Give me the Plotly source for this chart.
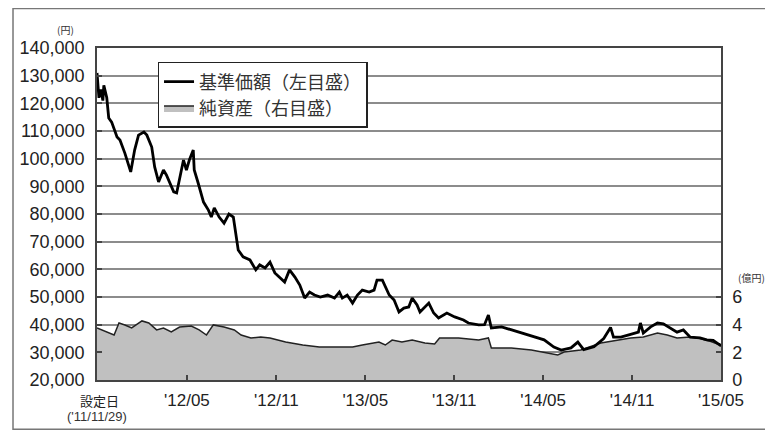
import plotly.graph_objects as go

# 基準価額 (円)
nav_dates = [
    "2011-11-29", "2011-12-03", "2011-12-07", "2011-12-11", "2011-12-13", "2011-12-19",
    "2011-12-23", "2011-12-29", "2012-01-09", "2012-01-15", "2012-01-25", "2012-02-06",
    "2012-02-14", "2012-02-22", "2012-03-04", "2012-03-10", "2012-03-20", "2012-03-26",
    "2012-04-03", "2012-04-13", "2012-04-19", "2012-04-25", "2012-05-04", "2012-05-10",
    "2012-05-16", "2012-05-24", "2012-05-30", "2012-06-05", "2012-06-13", "2012-06-15",
    "2012-06-23", "2012-07-04", "2012-07-14", "2012-07-20", "2012-07-26", "2012-08-05",
    "2012-08-15", "2012-08-25", "2012-09-03", "2012-09-13", "2012-09-23", "2012-10-07",
    "2012-10-19", "2012-10-27", "2012-11-07", "2012-11-17", "2012-11-27", "2012-12-07",
    "2012-12-17", "2012-12-27", "2013-01-07", "2013-01-17", "2013-01-27", "2013-02-06",
    "2013-02-16", "2013-02-28", "2013-03-15", "2013-03-29", "2013-04-08", "2013-04-14",
    "2013-04-24", "2013-05-05", "2013-05-15", "2013-05-25", "2013-06-08", "2013-06-18",
    "2013-06-24", "2013-07-05", "2013-07-11", "2013-07-19", "2013-07-29", "2013-08-08",
    "2013-08-18", "2013-08-28", "2013-09-04", "2013-09-14", "2013-09-20", "2013-10-08",
    "2013-10-18", "2013-10-28", "2013-11-14", "2013-11-30", "2013-12-18", "2013-12-28",
    "2014-01-18", "2014-01-30", "2014-02-07", "2014-02-13", "2014-03-06", "2014-03-26",
    "2014-04-15", "2014-05-12", "2014-06-01", "2014-06-21", "2014-07-06", "2014-07-26",
    "2014-08-09", "2014-08-21", "2014-09-11", "2014-10-01", "2014-10-15", "2014-10-21",
    "2014-11-05", "2014-11-25", "2014-12-11", "2014-12-15", "2014-12-21", "2015-01-05",
    "2015-01-19", "2015-01-31", "2015-02-14", "2015-02-28", "2015-03-13", "2015-03-27",
    "2015-04-16", "2015-04-30", "2015-05-13", "2015-05-27", "2015-05-29",
]
nav_values = [
    131000, 122000, 125000, 121000, 126500, 122000,
    114700, 113200, 107800, 106700, 102000, 95200,
    103100, 108500, 109600, 108500, 104200, 97000,
    91600, 95900, 94100, 91600, 88000, 87600,
    92300, 99500, 95900, 99500, 103100, 95900,
    91200, 84300, 81400, 78900, 82200, 78900,
    76700, 80000, 78900, 67000, 64500, 63400,
    59800, 61600, 60500, 62600, 58700, 56900,
    55400, 59800, 57200, 54300, 49600, 51800,
    50700, 50000, 50700, 49600, 51800, 49600,
    50700, 47800, 50700, 52500, 51800, 52500,
    56100, 56100, 53600, 50700, 48900, 44600,
    46000, 46400, 49600, 47100, 44600, 47800,
    44200, 42400, 44200, 42800, 41700, 40600,
    39900, 40000, 43500, 38800, 39200, 38100,
    37000, 35500, 34500, 31900, 30800, 31600,
    33700, 31000, 32000, 35000, 39000, 35500,
    35500, 36500, 37300, 40600, 37000, 39200,
    40600, 40300, 38800, 37300, 38100, 35500,
    35200, 34500, 34300, 32600, 33000,
]

# 純資産 (億円)
na_dates = [
    "2011-11-29", "2011-12-19", "2012-01-03", "2012-01-13", "2012-01-25", "2012-02-08",
    "2012-02-29", "2012-03-14", "2012-03-30", "2012-04-13", "2012-04-29", "2012-05-16",
    "2012-06-09", "2012-06-25", "2012-07-10", "2012-07-24", "2012-08-15", "2012-09-05",
    "2012-09-19", "2012-10-09", "2012-10-29", "2012-11-17", "2012-12-19", "2013-01-23",
    "2013-02-26", "2013-03-31", "2013-05-05", "2013-05-25", "2013-06-28", "2013-07-11",
    "2013-07-25", "2013-08-14", "2013-09-04", "2013-09-30", "2013-10-20", "2013-10-30",
    "2013-12-08", "2014-01-18", "2014-02-07", "2014-02-13", "2014-03-26", "2014-05-06",
    "2014-05-26", "2014-06-29", "2014-07-12", "2014-08-15", "2014-09-25", "2014-10-29",
    "2014-11-25", "2014-12-21", "2015-01-19", "2015-02-08", "2015-02-28", "2015-03-27",
    "2015-04-16", "2015-05-07", "2015-05-27", "2015-05-29",
]
na_values = [
    3.76, 3.47, 3.25, 4.12, 3.98, 3.76,
    4.27, 4.12, 3.62, 3.76, 3.47, 3.83,
    3.90, 3.62, 3.25, 3.98, 3.83, 3.62,
    3.25, 3.04, 3.11, 3.04, 2.75, 2.53,
    2.39, 2.39, 2.39, 2.53, 2.75, 2.53,
    2.89, 2.75, 2.89, 2.67, 2.60, 3.04,
    3.04, 2.89, 3.04, 2.31, 2.31, 2.17,
    2.02, 1.81, 2.02, 2.17, 2.67, 2.89,
    3.04, 3.11, 3.40, 3.25, 3.04, 3.10,
    3.00, 2.80, 2.53, 2.50,
]

tick_dates = ["2011-11-29", "2012-05-31", "2012-11-30", "2013-05-31",
              "2013-11-29", "2014-05-30", "2014-11-28", "2015-05-29"]
tick_labels = ["", "'12/05", "'12/11", "'13/05", "'13/11", "'14/05", "'14/11", "'15/05"]
start_title = "設定日"
start_label = "('11/11/29)"
left_ticks = [20000, 30000, 40000, 50000, 60000, 70000, 80000,
              90000, 100000, 110000, 120000, 130000, 140000]
right_ticks = [0, 2, 4, 6]

FONT = "Liberation Sans, Arial, Noto Sans CJK JP, sans-serif"
JP = "Noto Sans CJK JP, sans-serif"

fig = go.Figure()
fig.add_trace(go.Scatter(
    x=na_dates, y=na_values, name="純資産（右目盛）", yaxis="y",
    mode="lines", fill="tozeroy", fillcolor="#c0c0c0",
    line=dict(color="#222222", width=1.5), legendrank=2,
))
fig.add_trace(go.Scatter(
    x=nav_dates, y=nav_values, name="基準価額（左目盛）", yaxis="y2",
    mode="lines", line=dict(color="#000000", width=2.8), legendrank=1,
))

fig.update_layout(
    width=765, height=426,
    margin=dict(l=85, r=52, t=40, b=54),
    paper_bgcolor="white", plot_bgcolor="white",
    font=dict(family=FONT, size=18, color="#222222"),
    showlegend=True,
    legend=dict(
        x=0.097, y=0.958, xanchor="left", yanchor="top",
        bgcolor="white", bordercolor="#222222", borderwidth=1.5,
        font=dict(family=JP, size=18, color="#333333"),
        tracegroupgap=0, itemwidth=30,
    ),
    xaxis=dict(
        type="date", range=["2011-11-29", "2015-05-29"],
        tickmode="array", tickvals=tick_dates, ticktext=tick_labels,
        ticks="inside", ticklen=5, tickcolor="#444444", tickwidth=1.5,
        showgrid=False, showline=True, linecolor="#444444", linewidth=1.5,
        mirror=True, tickfont=dict(family=FONT, size=17, color="#222222"),
        zeroline=False, ticklabelstandoff=4,
    ),
    yaxis=dict(
        side="right", range=[0, 24], tickmode="array", tickvals=right_ticks,
        ticks="inside", ticklen=5, tickcolor="#444444", tickwidth=1.5,
        showgrid=False, zeroline=False, showline=True, linecolor="#444444",
        linewidth=1.5, ticklabelstandoff=6,
        tickfont=dict(family=FONT, size=18, color="#222222"),
    ),
    yaxis2=dict(
        overlaying="y", side="left", range=[20000, 140000],
        tickmode="array", tickvals=left_ticks, tickformat=",d",
        ticks="inside", ticklen=5, tickcolor="#444444", tickwidth=1.5,
        showgrid=True, gridcolor="#8c8c8c", gridwidth=1.5, zeroline=False,
        showline=True, linecolor="#444444", linewidth=1.5,
        ticklabelstandoff=7,
        tickfont=dict(family=FONT, size=18, color="#222222"),
    ),
    annotations=[
        dict(text="(円)", xref="paper", yref="paper", x=-0.051, y=1.057,
             xanchor="center", yanchor="middle",
             showarrow=False, font=dict(family=JP, size=10, color="#333333")),
        dict(text="(億円)", xref="paper", yref="paper", x=1.024, y=0.31,
             xanchor="left", yanchor="middle", showarrow=False,
             font=dict(family=JP, size=10, color="#333333")),
        dict(text=start_title, x=tick_dates[0], xref="x", yref="paper",
             y=-0.063, xanchor="center", xshift=2, yanchor="middle",
             showarrow=False,
             font=dict(family=JP, size=13, color="#222222")),
        dict(text=start_label, x=tick_dates[0], xref="x", yref="paper",
             y=-0.111, xanchor="center", yanchor="middle", showarrow=False,
             font=dict(family=FONT, size=13, color="#333333")),
    ],
    shapes=[
        dict(type="rect", xref="paper", yref="paper",
             x0=-0.1346, x1=1.077, y0=-0.148, y1=1.119,
             line=dict(color="#777777", width=1.5), layer="below"),
    ],
)

fig.write_html("out.html")
